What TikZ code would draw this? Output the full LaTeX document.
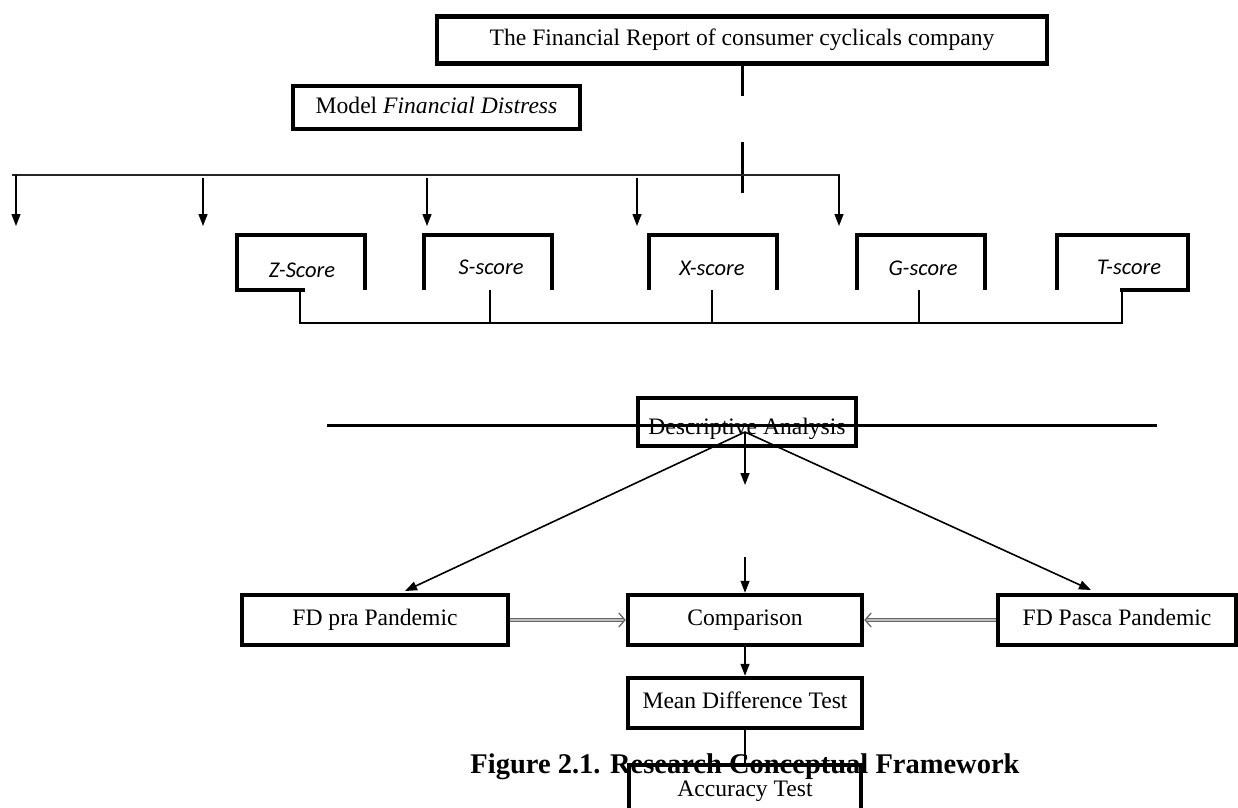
\documentclass[tikz,border=0pt]{standalone}
\usepackage{fontspec}
\setmainfont{Liberation Serif}
\newfontfamily\calibri{Carlito}
\usetikzlibrary{arrows.meta}
\tikzset{
  box/.style={draw, line width=4.5pt, inner sep=0pt, minimum height=47pt,
    font=\fontsize{23.6}{28}\selectfont, text height=16pt, text depth=5pt},
  scorelbl/.style={font=\calibri\itshape\fontsize{22.5}{26}\selectfont, inner sep=0pt},
  scorebox/.style={line width=4pt},
  stub/.style={line width=3pt},
  thinline/.style={line width=1.5pt, black!85},
  darr/.style={line width=1.3pt, -{Triangle[length=12pt,width=9pt]}},
  garr/.style={draw=black!60, line width=1.1pt, double=black!25, double distance=1.3pt,
    -{Straight Barb[length=6pt,width=14pt,line width=1.3pt]}},
  bigline/.style={line width=3pt}
}
\begin{document}
\begin{tikzpicture}[x=1pt,y=-1pt]
\useasboundingbox (0,0) rectangle (1238,807);
\clip (0,0) rectangle (1238,807);
\fill[white] (0,0) rectangle (1238,807);

% top boxes
\node[box, minimum width=610pt] (top) at (742,40) {The Financial Report of consumer cyclicals company};
\node[box, minimum width=287pt, minimum height=43pt] (model) at (436.5,107.5) {Model \textit{Financial Distress}};

\coordinate (s1) at (742,96);
\draw[stub] (top.south -| s1) -- (s1);
\coordinate (s2a) at (742,142);
\coordinate (s2b) at (742,193);
\draw[stub] (s2a) -- (s2b);

% distribution line and arrows
\coordinate (hl) at (12,175);
\coordinate (hr) at (840,175);
\draw[thinline] (hl) -- (hr);
\coordinate (a1) at (16,175);  \coordinate (t1) at (16,226);
\coordinate (a2) at (203,178); \coordinate (t2) at (203,226);
\coordinate (a3) at (427,178); \coordinate (t3) at (427,226);
\coordinate (a4) at (637,178); \coordinate (t4) at (637,226);
\coordinate (a5) at (839,175); \coordinate (t5) at (839,226);
\foreach \i in {1,...,5} \draw[darr] (a\i) -- (t\i);

% score boxes
\draw[scorebox] (305,290) -- (237,290) -- (237,235) -- (365,235) -- (365,290);
\draw[scorebox] (424,290) -- (424,235) -- (552,235) -- (552,290);
\draw[scorebox] (649,290) -- (649,235) -- (777,235) -- (777,290);
\draw[scorebox] (857,290) -- (857,235) -- (985,235) -- (985,290);
\draw[scorebox] (1057,290) -- (1057,235) -- (1188,235) -- (1188,290) -- (1120,290);
\node[scorelbl] (zs) at (302,270) {Z-Score};
\node[scorelbl] (ss) at (491,267) {S-score};
\node[scorelbl] (xs) at (712,268) {X-score};
\node[scorelbl] (gs) at (923,268) {G-score};
\node[scorelbl] (ts) at (1129,267) {T-score};

% bottom connector of scores
\coordinate (bz) at (300,290); \coordinate (bz2) at (300,323);
\coordinate (bt) at (1122,290); \coordinate (bt2) at (1122,323);
\draw[line width=2.2pt] (bz) -- (bz2) -- (bt2) -- (bt);
\coordinate (bs) at (490,290); \coordinate (bs2) at (490,323);
\coordinate (bx) at (712,290); \coordinate (bx2) at (712,323);
\coordinate (bg) at (919,290); \coordinate (bg2) at (919,323);
\draw[line width=1.8pt] (bs) -- (bs2) (bx) -- (bx2) (bg) -- (bg2);

% descriptive analysis
\node[box, minimum width=218pt, minimum height=48pt, text height=27pt, text depth=2pt] (desc) at (747,422) {Descriptive Analysis};
\coordinate (ll) at (327,425);
\coordinate (lr) at (1157,425);
\draw[bigline] (ll) -- (lr);

\coordinate (apex) at (745,432);
\coordinate (tipL) at (405,591);
\coordinate (tipR) at (1091,590);
\draw[darr, line width=1.6pt] (apex) -- (tipL);
\draw[darr, line width=1.6pt] (apex) -- (tipR);
\coordinate (va) at (745,433);
\coordinate (vb) at (745,485);
\draw[darr] (va) -- (vb);

% lower row
\node[box, minimum width=266pt, minimum height=50pt] (fdpra) at (375,620) {FD pra Pandemic};
\node[box, minimum width=234pt, minimum height=50pt] (comp) at (745,620) {Comparison};
\node[box, minimum width=238pt, minimum height=50pt] (fdpasca) at (1117,620) {FD Pasca Pandemic};

\coordinate (ca) at (745,557);
\draw[darr] (ca) -- (comp.north);
\draw[garr] (fdpra.east) -- (comp.west);
\draw[garr] (fdpasca.west) -- (comp.east);

\node[box, minimum width=234pt, minimum height=50pt] (mean) at (745,703) {Mean Difference Test};
\draw[darr] (comp.south) -- (mean.north);

\node[box, minimum width=232pt, minimum height=52pt] (acc) at (745,791) {Accuracy Test};
\draw[line width=1.4pt] (mean.south) -- (acc.north);

\node[font=\bfseries\fontsize{28.5}{32}\selectfont, anchor=base, inner sep=0pt] (cap) at (745,773) {Figure 2.1. Research Conceptual Framework};
\end{tikzpicture}
\end{document}
